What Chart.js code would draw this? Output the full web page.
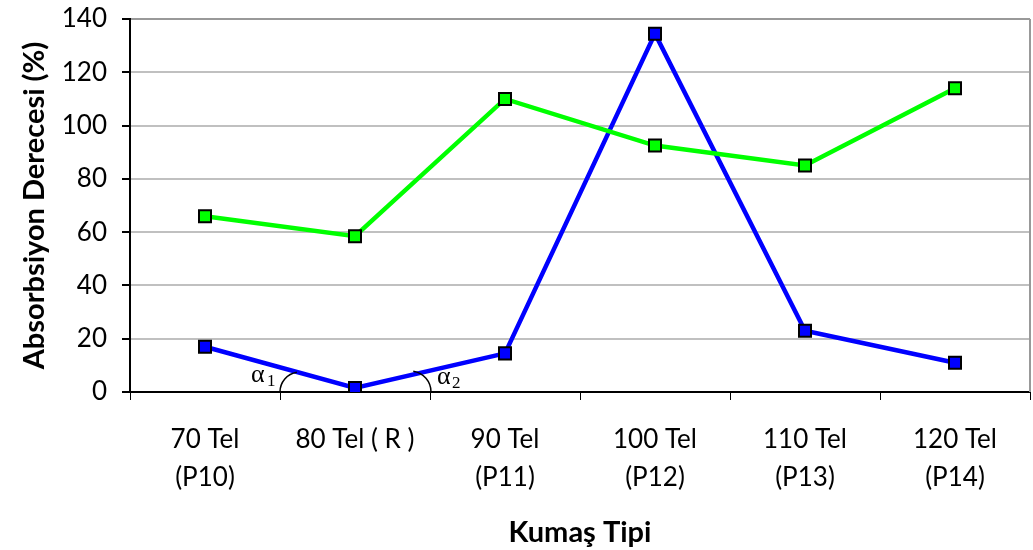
<!DOCTYPE html>
<html>
<head>
<meta charset="utf-8">
<script src="https://cdn.jsdelivr.net/npm/chart.js@4/dist/chart.umd.min.js"></script>
<style>
  html, body { margin: 0; padding: 0; background: #fff; overflow: hidden; }
  #wrap { width: 1033px; height: 550px; }
</style>
</head>
<body>
<div id="wrap"><canvas id="lineChart"></canvas></div>
<script>
// categories and series
var categories = [['70 Tel', '(P10)'], '80 Tel ( R )', ['90 Tel', '(P11)'], ['100 Tel', '(P12)'], ['110 Tel', '(P13)'], ['120 Tel', '(P14)']]
var greenValues = [66, 58.5, 110, 92.5, 85, 114]
var blueValues = [17, 1.5, 14.5, 134.5, 23, 11]
var yTicks = [0, 20, 40, 60, 80, 100, 120, 140]

var labelFont = 'Lato, "Open Sans", sans-serif'

// angle marks (alpha1, alpha2) + right frame line
var extrasPlugin = {
  id: 'extras',
  afterDatasetsDraw: function (chart) {
    var ctx = chart.ctx
    var area = chart.chartArea
    var x = chart.scales.x
    var y = chart.scales.y
    ctx.save()
    ctx.strokeStyle = '#999'
    ctx.lineWidth = 2
    ctx.beginPath()
    ctx.moveTo(area.right, area.top)
    ctx.lineTo(area.right, area.bottom)
    ctx.stroke()

    var y0 = y.getPixelForValue(0)
    var xa = x.getPixelForValue(0.5)
    var xb = x.getPixelForValue(1.5)
    ctx.strokeStyle = '#000'
    ctx.lineWidth = 1.5
    ctx.beginPath()
    ctx.arc(xa + 20, y0, 20, Math.PI, Math.PI * 1.45)
    ctx.stroke()
    ctx.beginPath()
    ctx.arc(xb - 20, y0, 21, Math.PI * 1.55, Math.PI * 2)
    ctx.stroke()

    ctx.fillStyle = '#000'
    ctx.textBaseline = 'alphabetic'
    ctx.textAlign = 'left'
    ctx.font = '26px "Liberation Serif", serif'
    ctx.fillText('\u03b1', xa - 29, y0 - 10)
    ctx.fillText('\u03b1', xb + 7, y0 - 8)
    ctx.font = '17px "Liberation Serif", serif'
    ctx.fillText('1', xa - 13, y0 - 6)
    ctx.fillText('2', xb + 22, y0 - 4)
    ctx.restore()
  }
}

var ctx = document.getElementById('lineChart').getContext('2d')
var lineChart = new Chart(ctx, {
  type: 'line',
  data: {
    labels: categories,
    datasets: [
      {
        label: 'green',
        data: greenValues,
        borderColor: '#00ff00',
        backgroundColor: '#00ff00',
        borderWidth: 4.5,
        pointStyle: 'rect',
        pointRadius: 8.5,
        pointBorderColor: '#000',
        pointBorderWidth: 2,
        pointBackgroundColor: '#00ff00',
        tension: 0,
        fill: false
      },
      {
        label: 'blue',
        data: blueValues,
        borderColor: '#0000ff',
        backgroundColor: '#0000ff',
        borderWidth: 4.5,
        pointStyle: 'rect',
        pointRadius: 8.5,
        pointBorderColor: '#000',
        pointBorderWidth: 2,
        pointBackgroundColor: '#0000ff',
        tension: 0,
        fill: false
      }
    ]
  },
  options: {
    responsive: true,
    maintainAspectRatio: false,
    animation: false,
    layout: { autoPadding: false, padding: { top: 19, right: 3, left: 0, bottom: 0 } },
    plugins: {
      legend: { display: false },
      tooltip: { enabled: false }
    },
    scales: {
      x: {
        offset: true,
        afterFit: function (scale) {
          scale.height = 158
          scale.paddingLeft = 0
          scale.paddingRight = 0
        },
        grid: {
          offset: true,
          drawOnChartArea: false,
          tickLength: 8,
          color: '#000'
        },
        border: { color: '#000', width: 2 },
        ticks: {
          color: '#000',
          maxRotation: 0,
          autoSkip: false,
          padding: 21,
          font: { family: labelFont, size: 26, lineHeight: 1.45 }
        },
        title: {
          display: true,
          text: 'Kumaş Tipi',
          color: '#000',
          padding: { top: 0, bottom: 0 },
          font: { family: labelFont, size: 29, weight: 'bold' }
        }
      },
      y: {
        min: 0,
        max: 140,
        afterFit: function (scale) {
          scale.width = 130
          scale.paddingTop = 0
          scale.paddingBottom = 0
        },
        afterBuildTicks: function (scale) {
          scale.ticks = yTicks.map(function (v) { return { value: v } })
        },
        grid: {
          color: function (c) { return c.tick && c.tick.value === 140 ? '#999' : '#c0c0c0' },
          lineWidth: 2,
          tickColor: '#000',
          tickLength: 8
        },
        border: { color: '#000', width: 2 },
        ticks: {
          color: '#000',
          padding: 15,
          font: { family: labelFont, size: 26 }
        },
        title: {
          display: true,
          text: 'Absorbsiyon Derecesi (%)',
          color: '#000',
          padding: { top: 17, bottom: 0 },
          font: { family: labelFont, size: 29, weight: 'bold' }
        }
      }
    }
  },
  plugins: [extrasPlugin]
})
</script>
</body>
</html>
